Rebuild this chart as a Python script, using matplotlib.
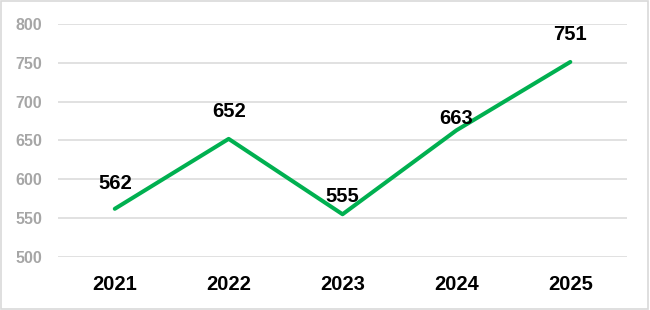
import matplotlib
matplotlib.use('Agg')
import matplotlib.pyplot as plt
from matplotlib.patches import Rectangle

years = ['2021', '2022', '2023', '2024', '2025']
values = [562, 652, 555, 663, 751]
y_ticks = [500, 550, 600, 650, 700, 750, 800]
# vertical offset (points) of each value label above its point
label_offsets = [18, 19.5, 13, 8.6, 19.5]

plt.rcParams['font.family'] = ['Liberation Sans', 'DejaVu Sans']

fig = plt.figure(figsize=(6.5, 3.1), dpi=100)
ax = fig.add_axes([0.089, 0.171, 0.876, 0.752])

x = range(len(years))
ax.plot(x, values, color='#00B050', linewidth=2.9, solid_capstyle='round', zorder=3)

for i, v in enumerate(values):
    ax.annotate(str(v), (i, v), xytext=(0, label_offsets[i]), textcoords='offset points',
                ha='center', va='center', fontsize=14.5, fontweight='bold', color='black', zorder=4)

ax.set_xlim(-0.5, len(years) - 0.5)
ax.set_ylim(500, 800)
ax.set_yticks(y_ticks)
ax.set_xticks(list(x))
ax.set_xticklabels(years, fontsize=14.5, fontweight='bold', color='black')
ax.set_yticklabels([str(t) for t in y_ticks], fontsize=11.5, fontweight='bold', color='#A6A6A6')
ax.tick_params(axis='both', length=0)
ax.tick_params(axis='x', pad=13)
ax.tick_params(axis='y', pad=11.5)

ax.grid(axis='y', color='#D9D9D9', linewidth=1.1)
ax.set_axisbelow(True)
for s in ax.spines.values():
    s.set_visible(False)

# light border around the whole chart
fig.patches.append(Rectangle((0.002, 0.004), 0.995, 0.992, transform=fig.transFigure,
                             fill=False, edgecolor='#D9D9D9', linewidth=1.2))

fig.savefig('out.png', dpi=100)
